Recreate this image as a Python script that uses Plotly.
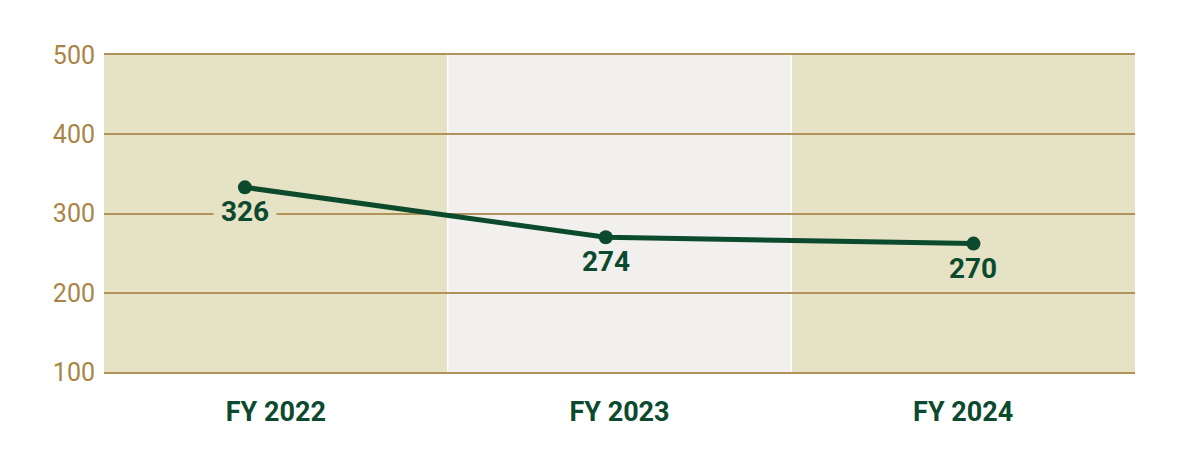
import plotly.graph_objects as go

categories = ["FY 2022", "FY 2023", "FY 2024"]
x_positions = [-0.09, 0.96, 2.03]
values = [333, 270, 262]
value_labels = ["326", "274", "270"]
band_colors = ["#e6e2c5", "#f1f0ee", "#e6e2c5"]
y_ticks = [100, 200, 300, 400, 500]

green = "#0b4a2c"
gold = "#a98545"
grid = "#b3925a"

fig = go.Figure()
fig.add_trace(go.Scatter(
    x=x_positions, y=values, mode="lines+markers",
    line=dict(color=green, width=5),
    marker=dict(color=green, size=14),
    hoverinfo="skip", showlegend=False,
))

for i, c in enumerate(band_colors):
    fig.add_shape(type="rect", xref="x", yref="paper",
                  x0=i - 0.5 + (0.002 if i else 0), x1=i + 0.5 - (0.002 if i < 2 else 0),
                  y0=0, y1=1, fillcolor=c, line=dict(width=0), layer="below")

for i, (xv, yv, lab) in enumerate(zip(x_positions, values, value_labels)):
    fig.add_annotation(x=xv, y=yv, text=f"<b>{lab}</b>", showarrow=False,
                       yshift=-24, font=dict(family="Roboto", size=28, color=green),
                       bgcolor=band_colors[round(xv)], borderpad=0, height=22,
                       width=62)

fig.update_layout(
    width=1201, height=458,
    margin=dict(l=96, r=74, t=47, b=94),
    paper_bgcolor="white", plot_bgcolor="white",
    font=dict(family="Roboto"),
    xaxis=dict(range=[-0.5, 2.5], tickvals=[0, 1, 2],
               ticktext=[f"<b>{c}</b>" for c in categories],
               tickfont=dict(size=27, color=green),
               showgrid=False, zeroline=False,
               showline=True, mirror=True, linecolor=grid, linewidth=2,
               ticks="outside", ticklen=15, tickcolor="rgba(0,0,0,0)"),
    yaxis=dict(range=[100, 500], tickvals=y_ticks,
               tickfont=dict(size=25, color=gold),
               showgrid=True, gridcolor=grid, gridwidth=2, zeroline=False,
               ticks="outside", ticklen=3, tickcolor="rgba(0,0,0,0)"),
)

fig.write_html("out.html")
